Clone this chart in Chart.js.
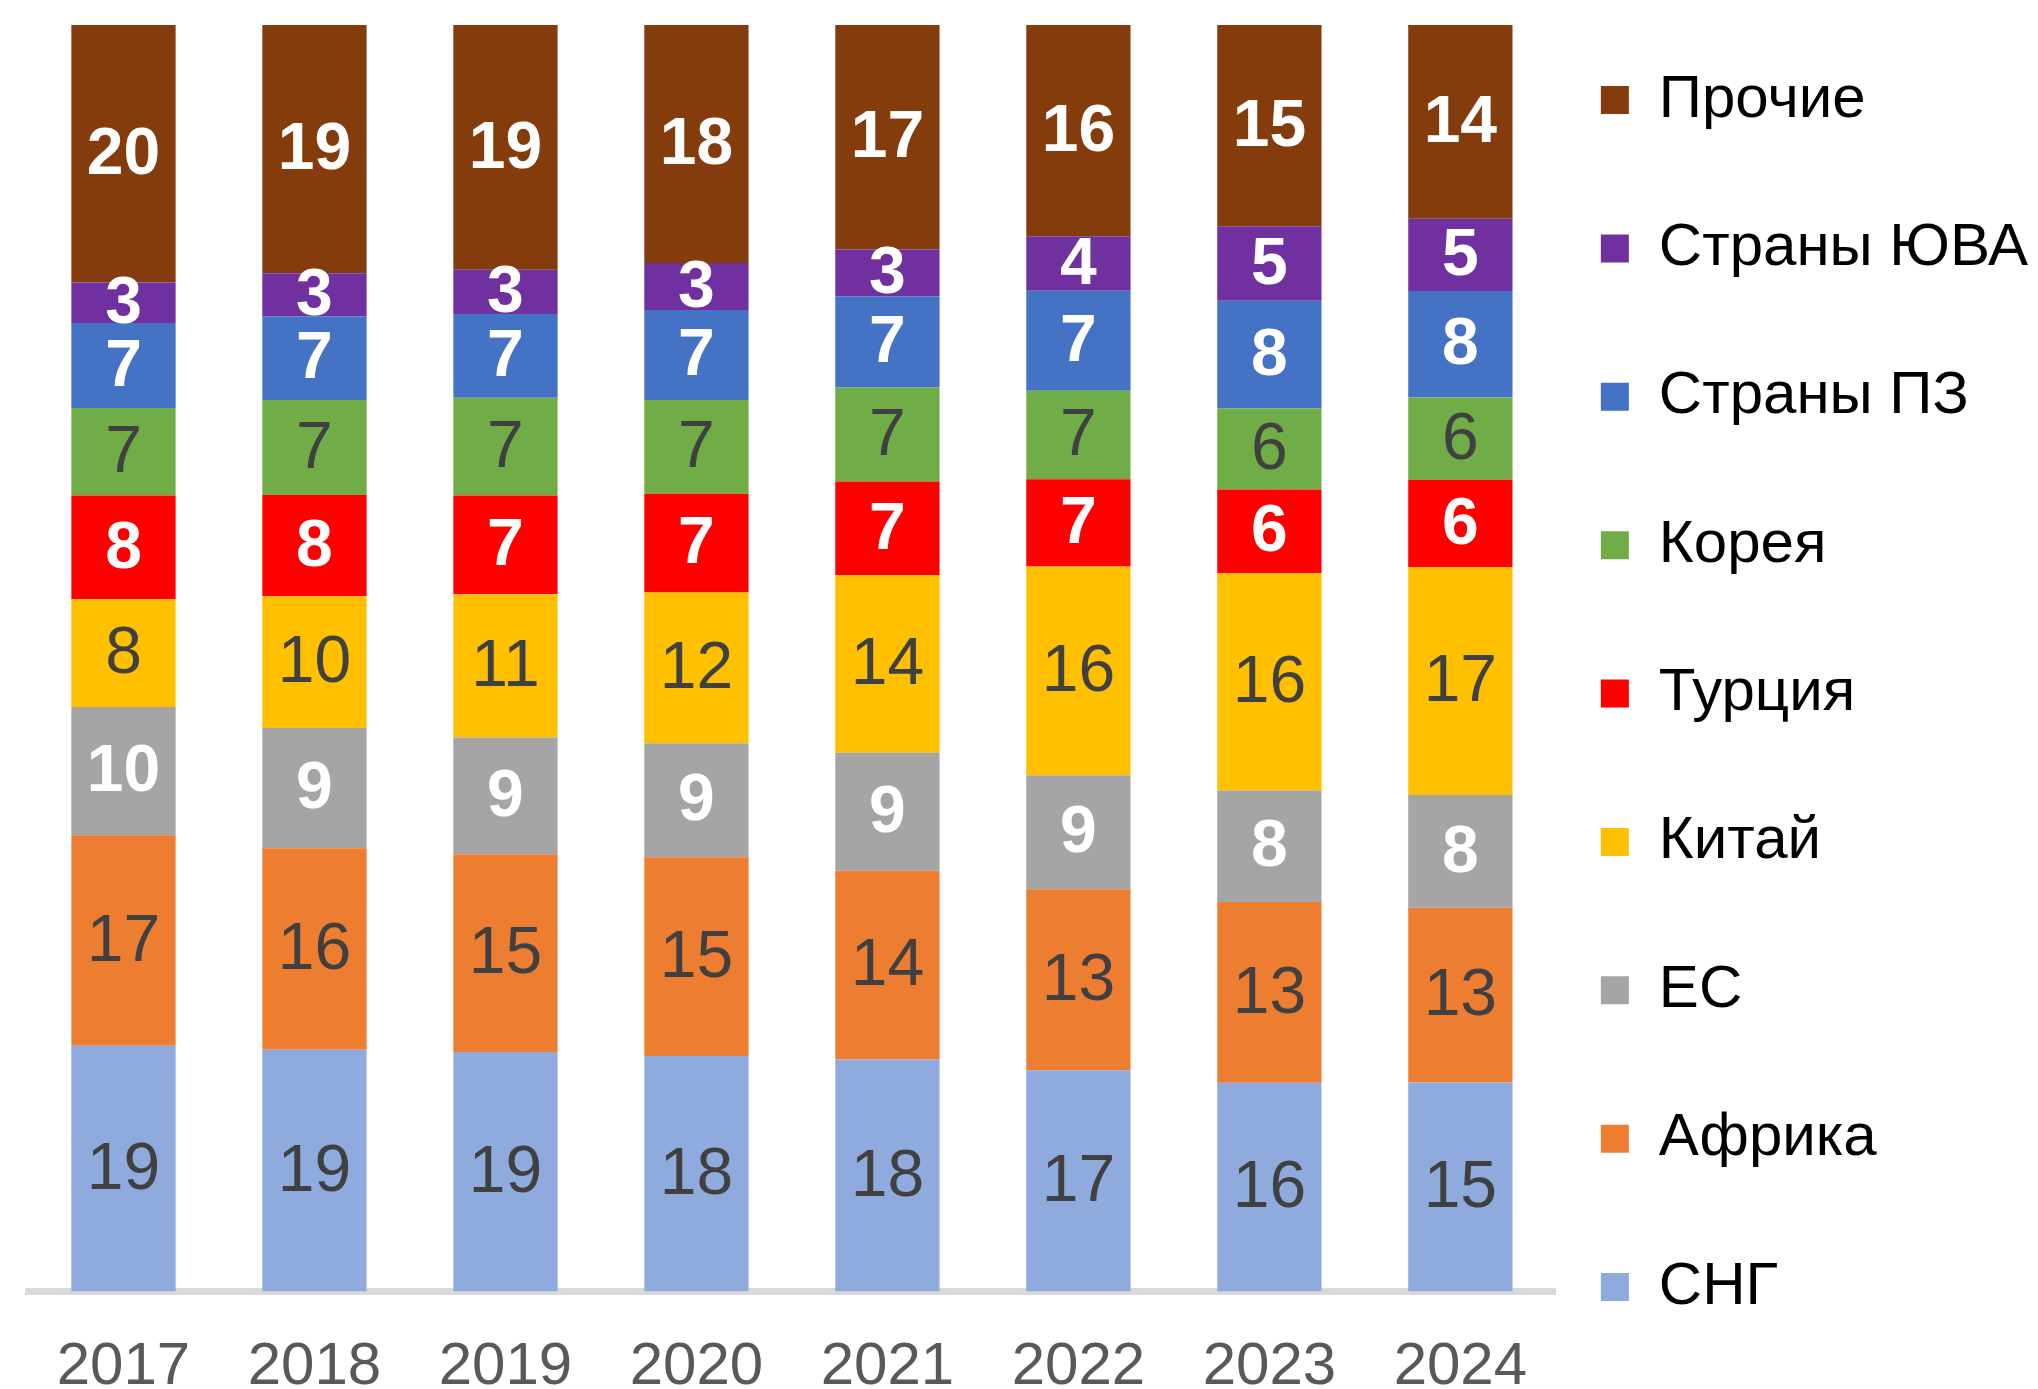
<!DOCTYPE html>
<html>
<head>
<meta charset="utf-8">
<script src="https://cdn.jsdelivr.net/npm/chart.js@4"></script>
<style>
  body { margin: 0; background: #fff; }
  #wrap { width: 2038px; height: 1389px; position: relative; }
</style>
</head>
<body>
<div id="wrap"><canvas id="exportChart"></canvas></div>
<script>
// годы
const years = ['2017', '2018', '2019', '2020', '2021', '2022', '2023', '2024'];

// доли в столбце, % (высота сегментов), снизу вверх
const cisShare     = [19.4, 19.1, 18.9, 18.6, 18.3, 17.5, 16.5, 16.5];
const africaShare  = [16.6, 15.9, 15.6, 15.7, 14.9, 14.3, 14.3, 13.8];
const euShare      = [10.1, 9.5, 9.2, 9.0, 9.3, 9.0, 8.8, 8.9];
const chinaShare   = [8.5, 10.4, 11.3, 11.9, 14.0, 16.5, 17.2, 18.0];
const turkeyShare  = [8.2, 8.0, 7.8, 7.8, 7.4, 6.9, 6.6, 6.9];
const koreaShare   = [6.9, 7.5, 7.7, 7.4, 7.4, 7.0, 6.4, 6.5];
const westShare    = [6.7, 6.6, 6.6, 7.1, 7.2, 7.9, 8.5, 8.4];
const seaShare     = [3.2, 3.4, 3.5, 3.7, 3.7, 4.3, 5.9, 5.7];
const otherShare   = [20.3, 19.6, 19.3, 18.8, 17.7, 16.7, 15.9, 15.3];

// подписи на сегментах
const cisLabels    = [19, 19, 19, 18, 18, 17, 16, 15];
const africaLabels = [17, 16, 15, 15, 14, 13, 13, 13];
const euLabels     = [10, 9, 9, 9, 9, 9, 8, 8];
const chinaLabels  = [8, 10, 11, 12, 14, 16, 16, 17];
const turkeyLabels = [8, 8, 7, 7, 7, 7, 6, 6];
const koreaLabels  = [7, 7, 7, 7, 7, 7, 6, 6];
const westLabels   = [7, 7, 7, 7, 7, 7, 8, 8];
const seaLabels    = [3, 3, 3, 3, 3, 4, 5, 5];
const otherLabels  = [20, 19, 19, 18, 17, 16, 15, 14];

const seriesNames = ['СНГ', 'Африка', 'ЕС', 'Китай', 'Турция', 'Корея', 'Страны ПЗ', 'Страны ЮВА', 'Прочие'];
const seriesColors = ['#8FAADC', '#ED7D31', '#A5A5A5', '#FFC000', '#FF0000', '#70AD47', '#4472C4', '#7030A0', '#843C0C'];
const whiteText = [false, false, true, false, true, false, true, true, true];

const shares = [cisShare, africaShare, euShare, chinaShare, turkeyShare, koreaShare, westShare, seaShare, otherShare];
const labels = [cisLabels, africaLabels, euLabels, chinaLabels, turkeyLabels, koreaLabels, westLabels, seaLabels, otherLabels];

const FONT = "'Liberation Sans', Arial, sans-serif";

// нормируем каждый столбец на 100%
const colSums = years.map((_, j) => shares.reduce((s, arr) => s + arr[j], 0));

const segmentLabels = {
    id: 'segmentLabels',
    afterDatasetsDraw(chart) {
        const ctx = chart.ctx;
        ctx.save();
        ctx.textAlign = 'center';
        ctx.textBaseline = 'middle';
        chart.data.datasets.forEach((ds, i) => {
            const meta = chart.getDatasetMeta(i);
            ctx.font = (whiteText[i] ? 'bold ' : '') + '66px ' + FONT;
            ctx.fillStyle = whiteText[i] ? '#FFFFFF' : '#404040';
            meta.data.forEach((bar, j) => {
                const y = (bar.y + bar.base) / 2 + 2;
                ctx.fillText(String(labels[i][j]), bar.x, y);
            });
        });
        ctx.restore();
    }
};

const ctx = document.getElementById('exportChart').getContext('2d');
new Chart(ctx, {
    type: 'bar',
    data: {
        labels: years,
        datasets: seriesNames.map((name, i) => ({
            label: name,
            data: shares[i].map((v, j) => v / colSums[j] * 100),
            backgroundColor: seriesColors[i],
            borderWidth: 0,
            categoryPercentage: 1,
            barPercentage: 0.546
        }))
    },
    options: {
        responsive: true,
        maintainAspectRatio: false,
        animation: false,
        layout: {
            padding: { top: 25, left: 28, right: 0, bottom: -54 }
        },
        scales: {
            x: {
                stacked: true,
                z: 1,
                grid: { display: false, drawTicks: false },
                border: { display: true, color: '#D9D9D9', width: 7 },
                ticks: {
                    color: '#595959',
                    padding: 52,
                    font: { family: FONT, size: 60, lineHeight: 0.79 }
                }
            },
            y: {
                stacked: true,
                display: false,
                min: 0,
                max: 100
            }
        },
        plugins: {
            legend: {
                position: 'right',
                align: 'start',
                reverse: true,
                labels: {
                    boxWidth: 28,
                    boxHeight: 28,
                    padding: 45,
                    color: '#000000',
                    font: { family: FONT, size: 60, lineHeight: 1.723 },
                    generateLabels: (chart) =>
                        Chart.defaults.plugins.legend.labels.generateLabels(chart)
                            .map(item => ({ ...item, text: [item.text] }))
                }
            },
            tooltip: { enabled: false }
        }
    },
    plugins: [segmentLabels]
});
</script>
</body>
</html>
